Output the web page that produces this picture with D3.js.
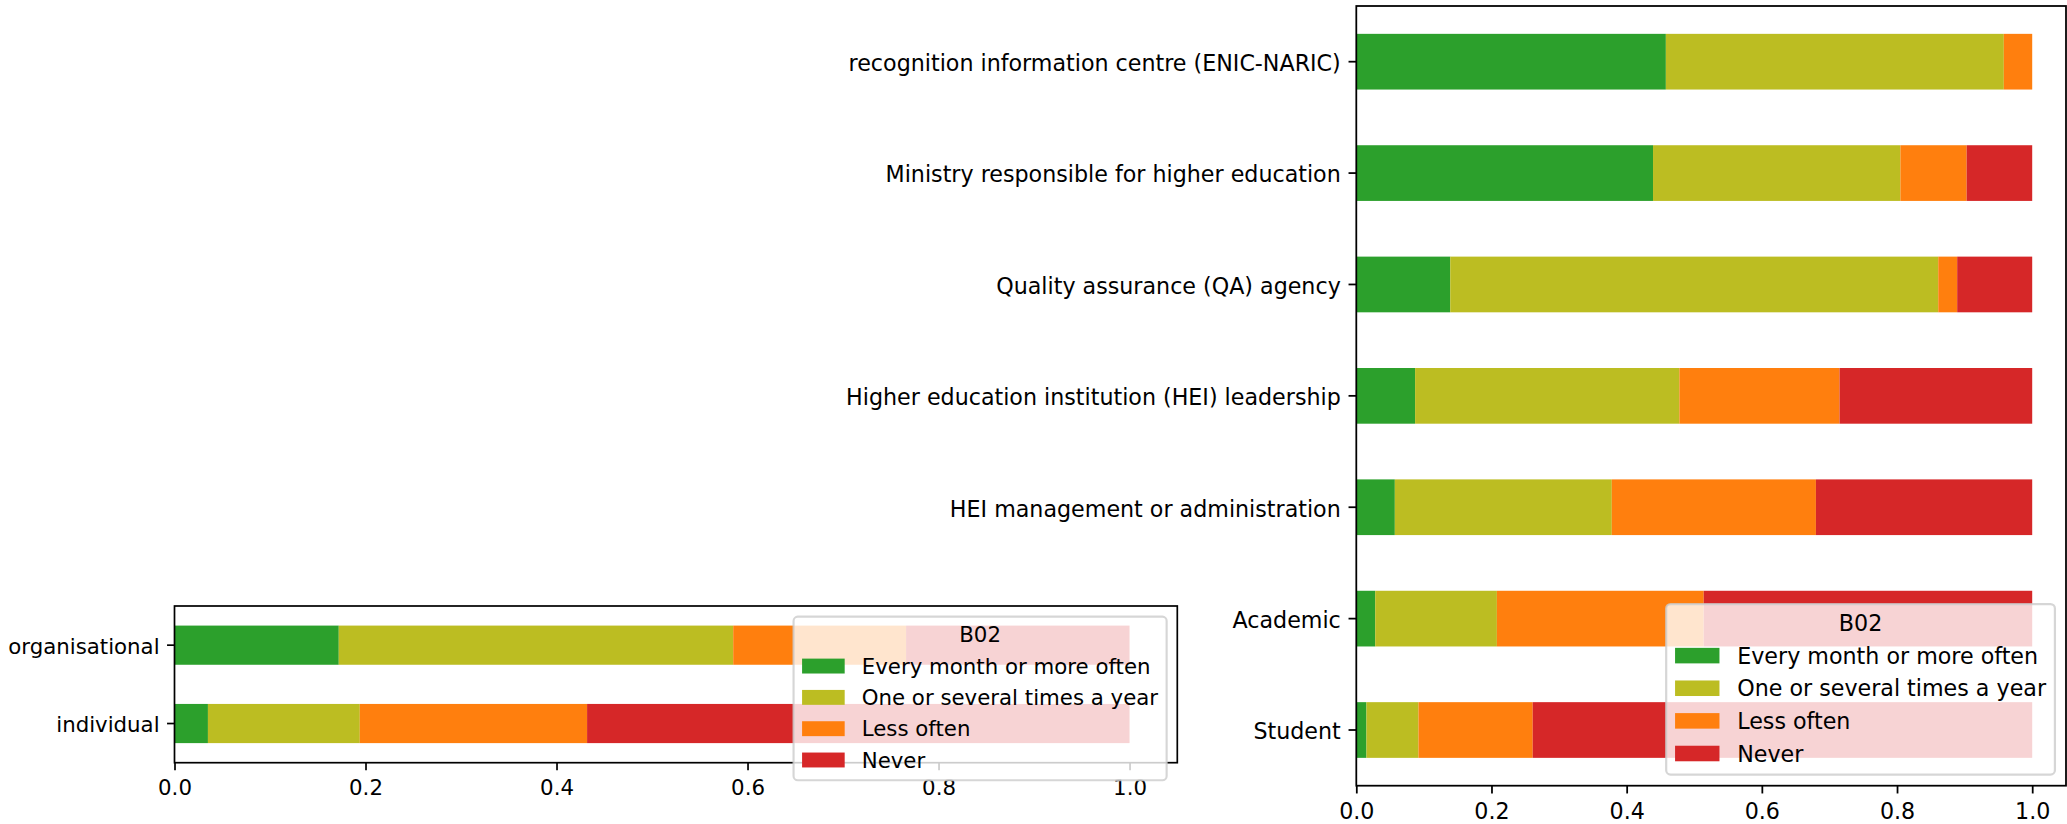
<!DOCTYPE html>
<html>
<head>
<meta charset="utf-8">
<script src="https://cdn.jsdelivr.net/npm/d3@7"></script>
<style>
  body { margin: 0; background: #fff; }
  svg { display: block; font-family: "DejaVu Sans", sans-serif; }
</style>
</head>
<body>
<svg></svg>
<script>
var width = 2067;
var height = 824;

var legendTitle = "B02";
var seriesNames = ["Every month or more often", "One or several times a year", "Less often", "Never"];
var seriesKeys = ["monthly", "yearly", "less", "never"];
var seriesColors = ["#2ca02c", "#bcbd22", "#ff7f0e", "#d62728"];
var xTicks = [0, 0.2, 0.4, 0.6, 0.8, 1.0];

// left panel: level
var levelCats = ["organisational", "individual"];
var levelMonthly = [0.172, 0.035];
var levelYearly = [0.413, 0.159];
var levelLess = [0.181, 0.238];
var levelNever = [0.234, 0.568];

// right panel: role
var roleCats = [
  "recognition information centre (ENIC-NARIC)",
  "Ministry responsible for higher education",
  "Quality assurance (QA) agency",
  "Higher education institution (HEI) leadership",
  "HEI management or administration",
  "Academic",
  "Student"
];
var roleMonthly = [0.458, 0.439, 0.139, 0.087, 0.057, 0.028, 0.015];
var roleYearly = [0.500, 0.366, 0.722, 0.391, 0.321, 0.180, 0.077];
var roleLess = [0.042, 0.098, 0.028, 0.237, 0.302, 0.306, 0.169];
var roleNever = [0.000, 0.097, 0.111, 0.285, 0.320, 0.486, 0.739];

// prettier-ignore
var svg = d3.select("svg")
              .attr("width", width)
              .attr("height", height);

svg.append("rect")
   .attr("width", width)
   .attr("height", height)
   .attr("fill", "#fff");

drawPanel({
  cats: levelCats,
  values: [levelMonthly, levelYearly, levelLess, levelNever],
  left: 174.5, right: 1177.3, top: 606, bottom: 762.7,
  font: 21.3,
  legendLoc: "upper"
});

drawPanel({
  cats: roleCats,
  values: [roleMonthly, roleYearly, roleLess, roleNever],
  left: 1356.3, right: 2066, top: 6, bottom: 785.7,
  font: 22.2,
  legendLoc: "lower"
});

function drawPanel(p) {
  var f = p.font;
  var s = f / 10;           // points -> px
  var lw = 0.8 * s;
  var tick = 3.5 * s;

  var rows = p.cats.map(function(c, i) {
    var r = { cat: c };
    seriesKeys.forEach(function(k, j) { r[k] = p.values[j][i]; });
    return r;
  });

  var stack = d3.stack().keys(seriesKeys)(rows);

  // prettier-ignore
  var x = d3.scaleLinear()
            .domain([0, 1.05])
            .range([p.left, p.right]);

  // prettier-ignore
  var y = d3.scaleBand()
            .domain(p.cats)
            .range([p.top, p.bottom])
            .paddingInner(0.5)
            .paddingOuter(0.25);

  var g = svg.append("g");

  // prettier-ignore
  g.selectAll("g.series")
    .data(stack)
    .enter()
      .append("g")
      .attr("fill", (d, i) => seriesColors[i])
    .selectAll("rect")
    .data(d => d)
    .enter()
      .append("rect")
      .attr("x", d => x(d[0]))
      .attr("y", d => y(d.data.cat))
      .attr("width", d => Math.max(0, x(d[1]) - x(d[0])))
      .attr("height", y.bandwidth());

  // prettier-ignore
  var yAxis = g.append("g")
     .attr("transform", "translate(" + p.left + ",0)")
     .call(d3.axisLeft(y).tickSize(tick).tickPadding(3.5 * s).tickSizeOuter(0));

  // prettier-ignore
  var xAxis = g.append("g")
     .attr("transform", "translate(0," + p.bottom + ")")
     .call(d3.axisBottom(x)
             .tickValues(xTicks)
             .tickFormat(d3.format(".1f"))
             .tickSize(tick)
             .tickPadding(3.5 * s)
             .tickSizeOuter(0));

  [xAxis, yAxis].forEach(function(a) {
    a.select(".domain").remove();
    a.selectAll("line").attr("stroke", "#000").attr("stroke-width", lw);
    a.selectAll("text")
     .attr("fill", "#000")
     .style("font-family", "'DejaVu Sans', sans-serif")
     .style("font-size", f + "px");
  });

  yAxis.selectAll("text").attr("dy", "0.42em");
  xAxis.selectAll("text").attr("dy", "0.82em");

  // prettier-ignore
  g.append("rect")
   .attr("x", p.left)
   .attr("y", p.top)
   .attr("width", p.right - p.left)
   .attr("height", p.bottom - p.top)
   .attr("fill", "none")
   .attr("stroke", "#000")
   .attr("stroke-width", lw);

  // legend
  var lg = svg.append("g").style("font-size", f + "px");
  var textStart = 0.4 * f + 2 * f + 0.8 * f;
  var tmp = lg.selectAll("text.m")
    .data(seriesNames)
    .enter()
      .append("text")
      .text(d => d);
  var maxW = d3.max(tmp.nodes(), n => n.getComputedTextLength());
  tmp.remove();

  var boxW = textStart + maxW + 0.4 * f;
  var boxH = 7.68 * f;
  var bx = p.right - 0.5 * f - boxW;
  var by = p.legendLoc === "upper" ? p.top + 0.5 * f : p.bottom - 0.5 * f - boxH;

  // prettier-ignore
  lg.append("rect")
    .attr("x", bx)
    .attr("y", by)
    .attr("width", boxW)
    .attr("height", boxH)
    .attr("rx", 0.2 * f)
    .attr("fill", "#fff")
    .attr("fill-opacity", 0.8)
    .attr("stroke", "#ccc")
    .attr("stroke-opacity", 0.8)
    .attr("stroke-width", 1 * s);

  // prettier-ignore
  lg.append("text")
    .attr("x", bx + boxW / 2)
    .attr("y", by + 0.85 * f)
    .attr("dy", "0.36em")
    .attr("text-anchor", "middle")
    .text(legendTitle);

  // prettier-ignore
  var item = lg.selectAll("g.item")
    .data(seriesNames)
    .enter()
      .append("g")
      .attr("transform", (d, i) => "translate(" + bx + "," + (by + 2.32 * f + i * 1.47 * f) + ")");

  // prettier-ignore
  item.append("rect")
      .attr("x", 0.4 * f)
      .attr("y", -0.35 * f)
      .attr("width", 2 * f)
      .attr("height", 0.7 * f)
      .attr("fill", (d, i) => seriesColors[i]);

  // prettier-ignore
  item.append("text")
      .attr("x", textStart)
      .attr("dy", "0.36em")
      .text(d => d);
}
</script>
</body>
</html>
